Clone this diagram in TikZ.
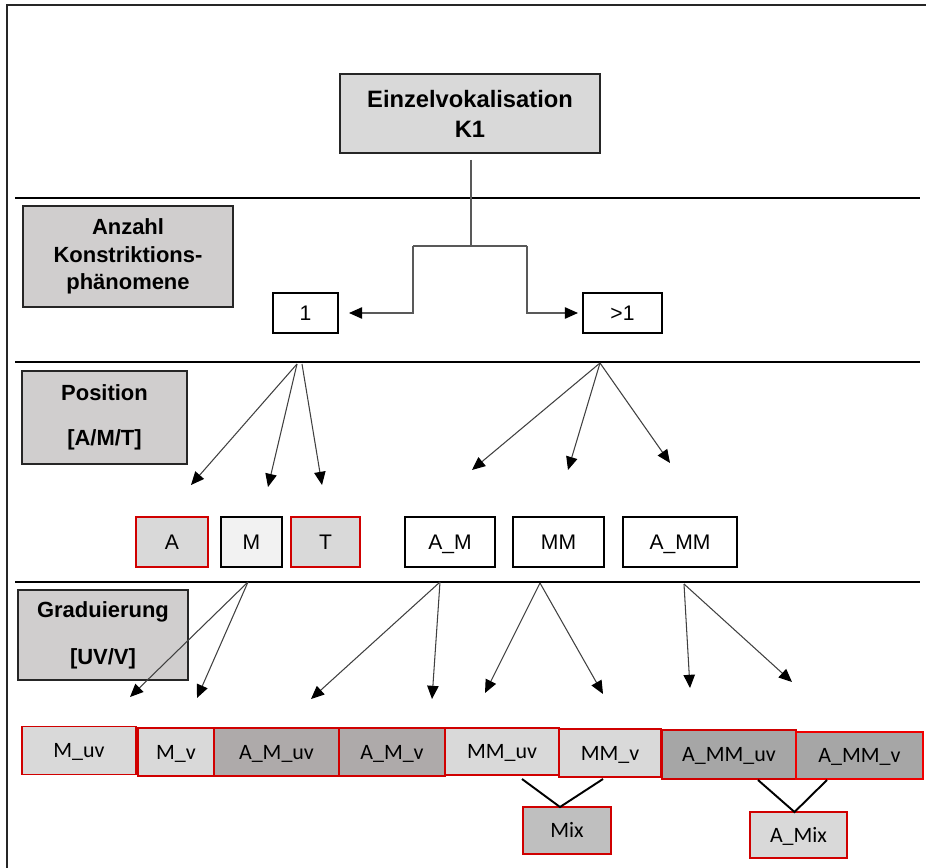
\documentclass[tikz,border=0pt]{standalone}
\usepackage{fontspec}
\setmainfont{Liberation Sans}
\newfontfamily\calib{Carlito}
\usetikzlibrary{arrows.meta}
\definecolor{lg}{HTML}{D9D9D9}
\definecolor{lbl}{HTML}{D0CECE}
\definecolor{vlg}{HTML}{F2F2F2}
\definecolor{mg}{HTML}{AEAAAA}
\definecolor{dg}{HTML}{A6A6A6}
\definecolor{mixg}{HTML}{BFBFBF}
\definecolor{rd}{HTML}{D00000}
\definecolor{rdb}{HTML}{F00000}
\definecolor{dk}{HTML}{262626}
\definecolor{ar}{HTML}{404040}
\definecolor{el}{HTML}{595959}
\begin{document}
\begin{tikzpicture}[x=0.02cm,y=-0.02cm,
  wh/.style 2 args={minimum width=#1*0.2mm,minimum height=#2*0.2mm},
  box/.style={draw, line width=1.1pt, inner sep=0pt, outer sep=0pt, align=center},
  lab/.style={box, fill=lbl, draw=dk, font=\fontsize{12.5}{15}\selectfont\bfseries},
  plainbox/.style={box, draw=black, font=\fontsize{12}{14}\selectfont, text height=8.6pt, text depth=0pt},
  leaf/.style={box, draw=rd, font=\calib\fontsize{12.5}{15}\selectfont, text height=8.2pt, text depth=0pt},
  tip/.style={-{Triangle[length=7.5pt,width=6.5pt,color=black]}},
  arr/.style={draw=ar, line width=0.6pt, tip},
  elb/.style={draw=el, line width=0.8pt},
  sepline/.style={draw=black, line width=0.8pt},
]
\useasboundingbox (0,0) rectangle (926,868);
% frame
\draw[line width=1.2pt, draw=dk] (926,5) -- (7,5) -- (7,868);
% separators
\draw[sepline] (15,198) -- (920,198);
\draw[sepline] (15,362) -- (920,362);
\draw[sepline] (15,582) -- (920,582);

% root
\node[box, fill=lg, draw=dk, wh={260}{79}, font=\fontsize{13.5}{17}\selectfont\bfseries] (root) at (470,113.5) {Einzelvokalisation\\K1};

% level labels
\node[lab, wh={210}{101}, font=\fontsize{12.5}{15.6}\selectfont\bfseries] (anz) at (128,256.5) {Anzahl\\Konstriktions-\\phänomene};
\node[lab, wh={165}{93}] (pos) at (104.5,417.5) {Position\\[10.6pt][A/M/T]};
\node[lab, wh={170}{90}] (grad) at (103,635) {Graduierung\\[11.7pt][UV/V]};

% level 1
\node[plainbox, wh={65}{40}] (one) at (305.5,313) {1};
\node[plainbox, wh={79}{40}] (gt1) at (622.5,313) {>1};

% elbow connector
\coordinate (t0) at (471,160);
\coordinate (t1) at (471,246);
\coordinate (tl) at (413,246);
\coordinate (tr) at (527,246);
\draw[elb] (t0) -- (t1);
\draw[elb] (tl) -- (tr);
\draw[elb, tip] (tl) |- ([xshift=11*0.2mm]one.east);
\draw[elb, tip] (tr) |- ([xshift=-5*0.2mm]gt1.west);

% level 2
\node[plainbox, draw=rd, fill=lg, wh={72}{50}] (A) at (172,542) {A};
\node[plainbox, fill=vlg, wh={61}{50}] (M) at (251.5,542) {M};
\node[plainbox, draw=rd, fill=lg, wh={69}{50}] (T) at (325.5,542) {T};
\node[plainbox, wh={90}{50}] (AM) at (450,542) {A\_M};
\node[plainbox, wh={91}{50}] (MM) at (558.5,542) {MM};
\node[plainbox, wh={114}{50}] (AMM) at (680,542) {A\_MM};

% arrows from 1
\coordinate (o1a) at (297,364);
\coordinate (o1b) at (302,364);
\coordinate (e1a) at (191,485);
\coordinate (e1b) at (268,487);
\coordinate (e1c) at (322,485);
\draw[arr] (o1a) -- (e1a);
\draw[arr] (o1a) -- (e1b);
\draw[arr] (o1b) -- (e1c);
% arrows from >1
\coordinate (o2) at (600,363);
\coordinate (e2a) at (472,470);
\coordinate (e2b) at (568,470);
\coordinate (e2c) at (670,463);
\draw[arr] (o2) -- (e2a);
\draw[arr] (o2) -- (e2b);
\draw[arr] (o2) -- (e2c);

% level 3
\node[leaf, fill=lg, wh={114}{48}] (Muv) at (79,750.5) {M\_uv};
\node[leaf, fill=lg, wh={76}{48}] (Mv) at (176,752) {M\_v};
\node[leaf, fill=mg, wh={125}{48}] (AMuv) at (276.5,752) {A\_M\_uv};
\node[leaf, fill=mg, wh={106}{48}] (AMv) at (392,752) {A\_M\_v};
\node[leaf, fill=lg, wh={114}{47}] (MMuv) at (502,751.5) {MM\_uv};
\node[leaf, fill=lg, wh={102}{48}] (MMv) at (610,753) {MM\_v};
\node[leaf, fill=dg, wh={134}{49}] (AMMuv) at (729,754.5) {A\_MM\_uv};
\node[leaf, fill=dg, draw=rdb, wh={127}{47}] (AMMv) at (859.5,755.5) {A\_MM\_v};
\node[leaf, fill=mixg, wh={88}{47}] (Mix) at (567,830.5) {Mix};
\node[leaf, fill=lg, wh={97}{46}] (AMix) at (798.5,835) {A\_Mix};

% arrows from M
\coordinate (o3) at (248,582);
\coordinate (e3a) at (130,697);
\coordinate (e3b) at (197,698);
\draw[arr] (o3) -- (e3a);
\draw[arr] (o3) -- (e3b);
% arrows from A_M
\coordinate (o4) at (440,582);
\coordinate (e4a) at (311,699);
\coordinate (e4b) at (432,699);
\draw[arr] (o4) -- (e4a);
\draw[arr] (o4) -- (e4b);
% arrows from MM
\coordinate (o5) at (540,583);
\coordinate (e5a) at (485,693);
\coordinate (e5b) at (603,694);
\draw[arr] (o5) -- (e5a);
\draw[arr] (o5) -- (e5b);
% arrows from A_MM
\coordinate (o6) at (684,584);
\coordinate (e6a) at (690,688);
\coordinate (e6b) at (792,682);
\draw[arr] (o6) -- (e6a);
\draw[arr] (o6) -- (e6b);

% mix connectors
\coordinate (m1) at (522,779);
\coordinate (m2) at (603,779);
\coordinate (n1) at (758,780);
\coordinate (n2) at (827,780);
\draw[line width=1.1pt, draw=black] (m1) -- ([xshift=-7*0.2mm]Mix.north) -- (m2);
\draw[line width=1.1pt, draw=black] (n1) -- ([xshift=-4*0.2mm]AMix.north) -- (n2);
\end{tikzpicture}
\end{document}
